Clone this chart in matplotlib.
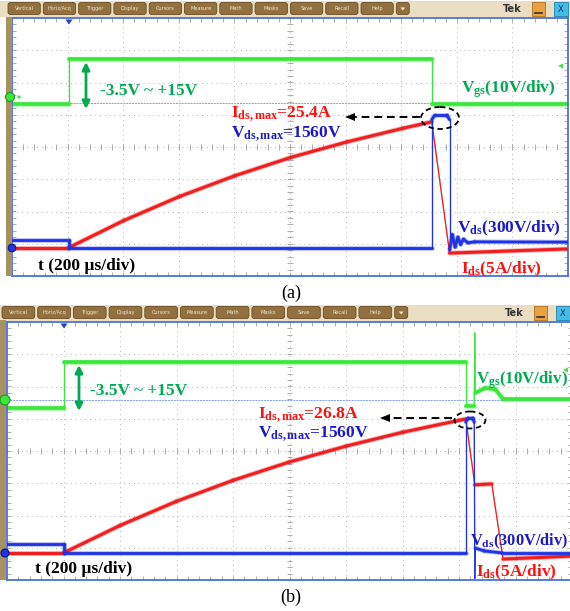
import numpy as np
import matplotlib.pyplot as plt
from matplotlib.collections import LineCollection
from matplotlib.patches import FancyBboxPatch, Ellipse, Circle, Rectangle, Polygon

plt.rcParams['mathtext.fontset'] = 'custom'
plt.rcParams['mathtext.rm'] = 'Liberation Serif'
plt.rcParams['mathtext.bf'] = 'Liberation Serif:bold'
plt.rcParams['mathtext.it'] = 'Liberation Serif:italic'

W, H = 570, 611
SERIF = 'Liberation Serif'

# colours
C_GS = '#3CE63C'      # Vgs trace
C_IDS = '#F01E1E'     # Ids trace
C_VDS = '#1E32E6'     # Vds trace
T_GREEN = '#00AA50'
T_RED = '#FF1010'
T_BLUE = '#1A1AC8'
BORDER = '#4A72D8'
GRID = '#B4B4B4'

# ---- traces, in screen divisions (x: 0..10 div, y: -4..4 div) ----
# panel (a)
A_VGS_T = [0, 1.02, 1.02, 7.55, 7.55, 10]
A_VGS = [1.32, 1.32, 2.73, 2.73, 1.32, 1.32]
A_IDS_T = [0, 1.01, 2.01, 3.02, 4.01, 5.02, 6.03, 7.03, 7.55, 7.87, 10]
A_IDS = [-3.13, -3.13, -2.28, -1.53, -0.89, -0.32, 0.16, 0.58, 0.78, -3.29, -3.16]
A_VDS_T = [0, 1.02, 1.02, 7.55, 7.55, 7.60, 7.82, 7.87, 7.87, 7.92, 7.97,
           8.02, 8.07, 8.12, 8.20, 8.32, 10]
A_VDS = [-2.88, -2.88, -3.13, -3.13, 0.85, 0.98, 0.98, 0.85, -3.19, -2.72,
         -3.10, -2.80, -3.02, -2.86, -2.97, -2.94, -2.95]
A_REF = 1.36

# panel (b)
B_VGS_T = [0, 1.01, 1.01, 8.12, 8.12, 8.27, 8.28, 8.29, 8.46, 8.64, 8.78, 10]
B_VGS = [1.33, 1.33, 2.76, 2.76, 1.40, 1.40, 3.66, 1.80, 1.95, 1.92, 1.61, 1.61]
B_IDS_T = [0, 1.00, 2.00, 3.00, 4.00, 5.00, 6.00, 7.00, 8.00, 8.12, 8.28, 8.58, 8.78, 10]
B_IDS = [-3.16, -3.16, -2.31, -1.56, -0.91, -0.34, 0.15, 0.58, 0.95, 0.99, -1.05,
         -1.02, -3.35, -3.26]
B_VDS_T = [0, 1.01, 1.01, 8.12, 8.12, 8.16, 8.24, 8.27, 8.28, 8.29, 8.45, 8.76, 10]
B_VDS = [-2.88, -2.88, -3.16, -3.16, 0.90, 1.02, 1.02, 0.90, -3.95, -3.01,
         -3.10, -3.16, -3.16]
B_REF = 1.58

BUTTONS = ["Vertical", "Horiz/Acq", "Trigger", "Display", "Cursors", "Measure",
           "Math", "Masks", "Save", "Recall", "Help"]


def px_axes(fig, x0, y0, x1, y1):
    return fig.add_axes([x0 / W, 1 - y1 / H, (x1 - x0) / W, (y1 - y0) / H])


def screen(fig, x0, y0, x1, y1):
    ax = px_axes(fig, x0, y0, x1, y1)
    ax.set_xlim(0, 10)
    ax.set_ylim(-4, 4)
    ax.set_xticks([])
    ax.set_yticks([])
    for s in ax.spines.values():
        s.set_color(BORDER)
        s.set_linewidth(1.3)
    for gx in range(1, 10):
        ax.axvline(gx, color=GRID, lw=0.7, ls=(0, (1, 4)), zorder=0)
    for gy in range(-3, 4):
        ax.axhline(gy, color=GRID, lw=0.7, ls=(0, (1, 4)), zorder=0)
    # minor ticks on the centre cross and the edges
    mx = np.arange(0, 10.01, 0.2)
    my = np.arange(-4, 4.01, 0.2)
    segs = []
    for x in mx:
        segs += [[(x, -0.09), (x, 0.09)], [(x, 4), (x, 3.88)], [(x, -4), (x, -3.88)]]
    for y in my:
        segs += [[(4.95, y), (5.05, y)], [(0, y), (0.07, y)], [(10, y), (9.93, y)]]
    ax.add_collection(LineCollection(segs, colors='#A0A0A0', linewidths=0.6, zorder=0))
    return ax


def trace(ax, t, v, color, lw, z):
    t = np.asarray(t, float)
    v = np.asarray(v, float)
    pts = np.column_stack([t, v])
    segs = np.stack([pts[:-1], pts[1:]], axis=1)
    fast = (np.abs(np.diff(t)) < 0.4) & (np.abs(np.diff(v)) > 0.8)
    widths = np.where(fast, 0.9, lw)
    halo = np.where(fast, 0.9, lw + 1.3)
    ax.add_collection(LineCollection(segs, colors=color, linewidths=halo, alpha=0.35,
                                     capstyle='round', zorder=z))
    ax.add_collection(LineCollection(segs, colors=color, linewidths=widths,
                                     capstyle='round', joinstyle='round', zorder=z + 0.1))


def toolbar(ov, y0, x_start, step, x_end):
    ov.add_patch(Rectangle((0, y0 - 2), W, 16, fc='#E9DDC2', ec='none', zorder=1))
    for i, name in enumerate(BUTTONS):
        x = x_start + i * step
        ov.add_patch(FancyBboxPatch((x, y0), step - 3, 12,
                                    boxstyle='round,pad=0,rounding_size=2.5',
                                    fc='#93703F', ec='#6A4C24', lw=0.6, zorder=2))
        ov.text(x + (step - 3) / 2, y0 + 6.3, name, fontsize=3.6, color='#F2E8D2',
                ha='center', va='center', zorder=3)
    x = x_start + len(BUTTONS) * step
    ov.add_patch(FancyBboxPatch((x, y0), 13, 12, boxstyle='round,pad=0,rounding_size=2.5',
                                fc='#93703F', ec='#6A4C24', lw=0.6, zorder=2))
    ov.add_patch(Polygon([(x + 4, y0 + 5), (x + 9, y0 + 5), (x + 6.5, y0 + 8)],
                         fc='#F2E8D2', ec='none', zorder=3))
    ov.text(x_end - 57, y0 + 7, "Tek", fontsize=7, fontweight='bold', color='#333333',
            ha='center', va='center', zorder=3)
    ov.add_patch(Rectangle((x_end - 37, y0 - 1), 13, 14, fc='#E8A040', ec='#B07020',
                           lw=0.6, zorder=2))
    ov.plot([x_end - 34, x_end - 27], [y0 + 10, y0 + 10], color='#333333', lw=1.2, zorder=3)
    ov.add_patch(Rectangle((x_end - 15, y0 - 1), 14, 14, fc='#44BCE4', ec='#2080B0',
                           lw=0.6, zorder=2))
    ov.text(x_end - 8, y0 + 6.5, "X", fontsize=6, color='#103080', ha='center',
            va='center', zorder=3)


def dashed_arrow(ov, x_from, x_to, y):
    ov.plot([x_from, x_to + 9], [y, y], color='k', lw=1.4, ls=(0, (4, 2.5)), zorder=6)
    ov.add_patch(Polygon([(x_to, y), (x_to + 10, y - 4), (x_to + 10, y + 4)],
                         fc='k', ec='none', zorder=6))


def green_arrow(ov, x, y_top, y_bot):
    ov.annotate("", xy=(x, y_top), xytext=(x, y_bot),
                arrowprops=dict(arrowstyle='<|-|>', color=T_GREEN, lw=2,
                                mutation_scale=11, shrinkA=0, shrinkB=0), zorder=6)


def label(ov, x, y, s, color, size=12.5, weight='bold'):
    ov.text(x, y, s, color=color, fontsize=size, fontweight=weight, family=SERIF,
            ha='left', va='baseline', zorder=7)


def main():
    fig = plt.figure(figsize=(W / 100, H / 100), dpi=100)
    fig.patch.set_facecolor('white')

    # ---------- panel (a) ----------
    axa = screen(fig, 12, 18, 568, 276)
    axa.axhline(A_REF, color='#7E9AF2', lw=0.7, ls=(0, (2, 1)), zorder=1)
    trace(axa, A_VGS_T, A_VGS, C_GS, 2.6, 2)
    trace(axa, A_IDS_T, A_IDS, C_IDS, 2.2, 3)
    trace(axa, A_VDS_T, A_VDS, C_VDS, 2.0, 4)

    # ---------- panel (b) ----------
    axb = screen(fig, 7, 322, 572, 580)
    axb.axhline(B_REF, color='#7E9AF2', lw=0.7, ls=(0, (2, 1)), zorder=1)
    trace(axb, B_VGS_T, B_VGS, C_GS, 2.6, 2)
    trace(axb, B_IDS_T, B_IDS, C_IDS, 2.2, 3)
    trace(axb, B_VDS_T, B_VDS, C_VDS, 2.0, 4)

    # ---------- overlay in pixel coordinates ----------
    ov = fig.add_axes([0, 0, 1, 1])
    ov.set_xlim(0, W)
    ov.set_ylim(H, 0)
    ov.axis('off')
    ov.patch.set_alpha(0)

    toolbar(ov, 2.5, 8, 35.3, 569)
    toolbar(ov, 306.5, 2, 35.7, 571)

    # side strips
    ov.add_patch(Rectangle((6, 17), 5.5, 259, fc='#A89060', ec='none', zorder=1))
    ov.add_patch(Rectangle((0, 320), 6, 260, fc='#A89060', ec='none', zorder=1))

    # channel markers
    for (cx, cy, fc, ec, r) in [(10, 97, C_GS, '#1A9A1A', 4.5), (12, 248, C_VDS, '#0A1A90', 3.8),
                                (5, 400, C_GS, '#1A9A1A', 5), (5, 553, C_VDS, '#0A1A90', 4)]:
        ov.add_patch(Circle((cx, cy), r, fc=fc, ec=ec, lw=0.8, zorder=8))
    ov.add_patch(Circle((19, 97), 1.6, fc=C_GS, ec='none', zorder=8))
    for (tx, ty) in [(561, 66), (566, 370)]:
        ov.add_patch(Polygon([(tx - 3, ty), (tx + 2, ty - 2.5), (tx + 2, ty + 2.5)],
                             fc=C_GS, ec='none', zorder=8))
    for (tx, ty) in [(69, 19.5), (64, 323.5)]:
        ov.add_patch(Polygon([(tx - 3.5, ty), (tx + 3.5, ty), (tx, ty + 5)],
                             fc='#2040D0', ec='none', zorder=8))

    # annotations (a)
    green_arrow(ov, 86, 62, 109)
    label(ov, 100, 95, "-3.5V ~ +15V", T_GREEN)
    label(ov, 461, 93, r"$\mathbf{V_{gs}}$(10V/div)", T_GREEN)
    label(ov, 231, 117, r"$\mathbf{I_{ds,max}}$=25.4A", T_RED)
    label(ov, 231, 137, r"$\mathbf{V_{ds,max}}$=1560V", T_BLUE)
    label(ov, 457, 232, r"$\mathbf{V_{ds}}$(300V/div)", T_BLUE)
    label(ov, 461, 273, r"$\mathbf{I_{ds}}$(5A/div)", T_RED)
    label(ov, 38, 270, "t (200 µs/div)", 'black')
    ov.add_patch(Ellipse((440, 118), 38, 22, fill=False, ec='k', lw=1.3,
                         ls=(0, (3, 2)), zorder=6))
    dashed_arrow(ov, 420, 345, 117)
    ov.text(291, 298, "(a)", fontsize=13, family=SERIF, ha='center', va='baseline')

    # annotations (b)
    green_arrow(ov, 79, 365, 411)
    label(ov, 90, 395, "-3.5V ~ +15V", T_GREEN)
    label(ov, 476, 384, r"$\mathbf{V_{gs}}$(10V/div)", T_GREEN, size=12.2)
    label(ov, 258, 418, r"$\mathbf{I_{ds,max}}$=26.8A", T_RED)
    label(ov, 258, 437, r"$\mathbf{V_{ds,max}}$=1560V", T_BLUE)
    label(ov, 470, 545, r"$\mathbf{V_{ds}}$(300V/div)", T_BLUE, size=11.8)
    label(ov, 476, 576, r"$\mathbf{I_{ds}}$(5A/div)", T_RED)
    label(ov, 35, 573, "t (200 µs/div)", 'black')
    ov.add_patch(Ellipse((470, 420), 31, 17, fill=False, ec='k', lw=1.3,
                         ls=(0, (3, 2)), zorder=6))
    dashed_arrow(ov, 452, 380, 418)
    ov.text(291, 602, "(b)", fontsize=13, family=SERIF, ha='center', va='baseline')

    fig.savefig("out.png", dpi=100)


if __name__ == "__main__":
    main()
